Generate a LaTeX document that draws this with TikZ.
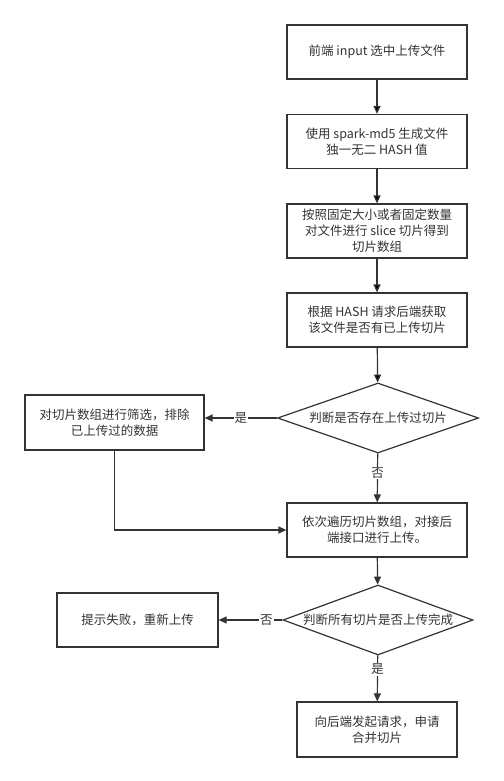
\documentclass[tikz,border=0pt]{standalone}
\usepackage{fontspec}
\setmainfont{Noto Sans CJK SC}
\usepackage{xcolor}
\usetikzlibrary{shapes.geometric,arrows.meta}
\definecolor{linegray}{RGB}{51, 51, 51}

\begin{document}
\begin{tikzpicture}[x = 1pt, y = -1pt,
	font = \fontsize{12.5pt}{16pt}\selectfont,
	box/.style = {draw = linegray, text = linegray, line width = 1.2pt, minimum width = 180pt, minimum height = 54pt, align = center, inner sep = 2pt},
	choice/.style = {draw = linegray, text = linegray, line width = 1.2pt, diamond, aspect = 2.8, inner sep = 0pt, minimum width = 201pt, minimum height = 70pt},
	arr/.style = {draw = linegray, line width = 1.2pt, -{Triangle[length = 8pt, width = 7pt]}},
	lbl/.style = {fill = white, text = linegray, inner sep = 1pt}]
	\useasboundingbox (0,0) rectangle (503,781);
	\node (a) at (377,52) [box] {前端 input 选中上传文件};
	\node (b) at (377,141.5) [box] {使用 spark-md5 生成文件\\独一无二 HASH 值};
	\node (c) at (377,231) [box] {按照固定大小或者固定数量\\对文件进行 slice 切片得到\\切片数组};
	\node (d) at (377,320) [box] {根据 HASH 请求后端获取\\该文件是否有已上传切片};
	\node (e) at (378,418) [choice] {判断是否存在上传过切片};
	\node (f) at (114.5,422.5) [box, minimum width = 179pt, minimum height = 55pt] {对切片数组进行筛选，排除\\已上传过的数据};
	\node (g) at (377,530) [box] {依次遍历切片数组，对接后\\端接口进行上传。};
	\node (h) at (378,620) [choice, minimum width = 190pt] {判断所有切片是否上传完成};
	\node (i) at (137.5,620) [box, minimum width = 161pt] {提示失败，重新上传};
	\node (j) at (377,729.5) [box, minimum width = 160pt, minimum height = 55pt] {向后端发起请求，申请\\合并切片};
	\draw[arr] (a) edge (b) (b) edge (c) (c) edge (d) (d) edge (e);
	\draw[arr] (e.west) -- node[lbl] {是} (e.west -| f.east);
	\draw[arr] (e) -- node[lbl, pos = 0.4] {否} (g);
	\draw[arr] (f) |- (g);
	\draw[arr] (g) -- (h);
	\draw[arr] (h) -- node[lbl, pos = 0.25] {否} (i);
	\draw[arr] (h) -- node[lbl, pos = 0.3] {是} (j);
\end{tikzpicture}
\end{document}
